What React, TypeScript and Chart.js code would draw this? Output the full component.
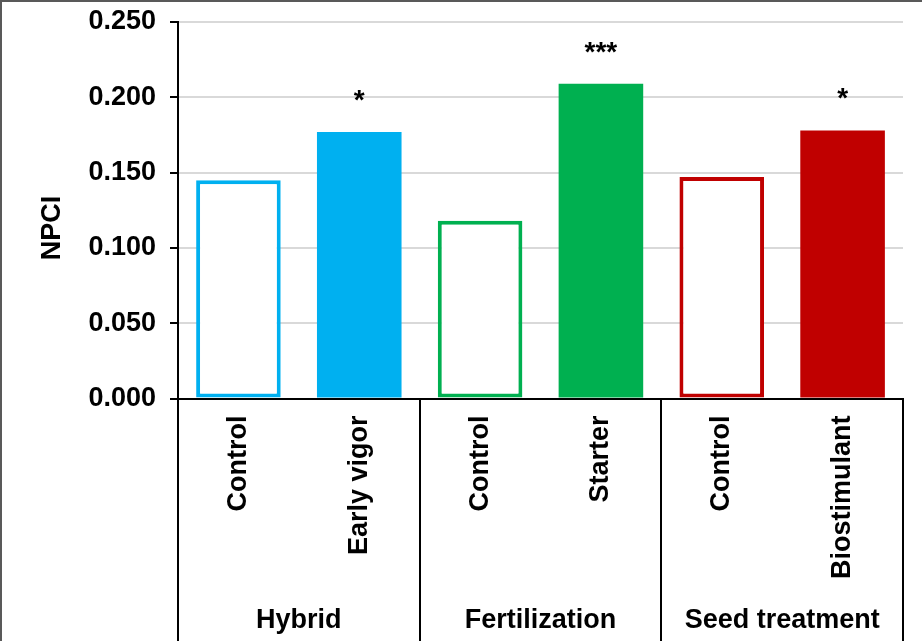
import React, { useEffect, useRef } from "react";
import { Chart, registerables } from "chart.js";

Chart.register(...registerables);

// Treatments, one bar each, grouped in pairs
const categories = ["Control", "Early vigor", "Control", "Starter", "Control", "Biostimulant"];
const groups = ["Hybrid", "Fertilization", "Seed treatment"];
const npciValues = [0.145, 0.177, 0.118, 0.209, 0.147, 0.178];
const significance = ["", "*", "", "***", "", "*"];
const filledBars = [false, true, false, true, false, true];
const groupColors = ["#00B0F0", "#00B050", "#C00000"];

const yMin = 0;
const yMax = 0.25;
const yStep = 0.05;

const FONT = "'Liberation Sans', Arial, sans-serif";

const barColor = (i: number) => groupColors[Math.floor(i / 2)];

const annotationsPlugin = {
  id: "npciAnnotations",
  afterDraw(chart: any) {
    const { ctx, chartArea, scales } = chart;
    const xScale = scales.x;
    const meta = chart.getDatasetMeta(0);
    const catWidth = (chartArea.right - chartArea.left) / categories.length;
    const H = chart.height;

    ctx.save();
    ctx.fillStyle = "#000";

    // significance marks above bars
    ctx.font = `bold 28px ${FONT}`;
    ctx.textAlign = "center";
    ctx.textBaseline = "alphabetic";
    meta.data.forEach((bar: any, i: number) => {
      if (significance[i]) ctx.fillText(significance[i], bar.x, bar.y - 23);
    });

    // rotated category labels
    ctx.font = `bold 27px ${FONT}`;
    categories.forEach((label, i) => {
      const x = xScale.getPixelForValue(i);
      ctx.save();
      ctx.translate(x, chartArea.bottom + 17);
      ctx.rotate(-Math.PI / 2);
      ctx.textAlign = "right";
      ctx.textBaseline = "middle";
      ctx.fillText(label, 0, 0);
      ctx.restore();
    });

    // group separators
    ctx.strokeStyle = "#000";
    ctx.lineWidth = 2;
    for (let g = 0; g <= groups.length; g++) {
      const x = Math.round(chartArea.left + g * 2 * catWidth);
      ctx.beginPath();
      ctx.moveTo(x, chartArea.bottom);
      ctx.lineTo(x, H);
      ctx.stroke();
    }

    // group labels
    ctx.textAlign = "center";
    ctx.textBaseline = "alphabetic";
    groups.forEach((label, g) => {
      const x = chartArea.left + (g * 2 + 1) * catWidth;
      ctx.fillText(label, x, 628);
    });

    // y axis title
    ctx.save();
    ctx.translate(53, 228);
    ctx.rotate(-Math.PI / 2);
    ctx.textAlign = "center";
    ctx.textBaseline = "middle";
    ctx.font = `bold 27px ${FONT}`;
    ctx.fillText("NPCI", 0, 0);
    ctx.restore();

    // outer frame (top and left)
    ctx.strokeStyle = "#595959";
    ctx.lineWidth = 2;
    ctx.beginPath();
    ctx.moveTo(1, H);
    ctx.lineTo(1, 1);
    ctx.lineTo(chart.width, 1);
    ctx.stroke();

    ctx.restore();
  },
};

export default function App() {
  const canvasRef = useRef<HTMLCanvasElement | null>(null);

  useEffect(() => {
    if (!canvasRef.current) return;
    const chart = new Chart(canvasRef.current, {
      type: "bar",
      data: {
        labels: categories,
        datasets: [
          {
            data: npciValues,
            backgroundColor: npciValues.map((_, i) => (filledBars[i] ? barColor(i) : "#ffffff")),
            borderColor: npciValues.map((_, i) => barColor(i)),
            borderWidth: npciValues.map((_, i) => (filledBars[i] ? 0 : 4)),
            borderSkipped: false,
            barPercentage: 0.7,
            categoryPercentage: 1,
          },
        ],
      },
      options: {
        responsive: false,
        animation: false,
        devicePixelRatio: 1,
        layout: { padding: { left: 0, right: 19, top: 22, bottom: 242.5 } },
        plugins: {
          legend: { display: false },
          tooltip: { enabled: false },
        },
        scales: {
          x: {
            type: "category",
            grid: { display: false },
            ticks: { display: false },
            border: { display: true, color: "#000", width: 2 },
            afterFit: (scale: any) => {
              scale.height = 0;
              scale.paddingLeft = 0;
              scale.paddingRight = 0;
            },
          },
          y: {
            min: yMin,
            max: yMax,
            ticks: {
              stepSize: yStep,
              color: "#000",
              padding: 14,
              font: { family: FONT, size: 27, weight: "bold" },
              callback: (v: any) => Number(v).toFixed(3),
            },
            grid: {
              color: "#d9d9d9",
              lineWidth: 2,
              tickColor: "#000",
              tickLength: 8,
            },
            border: { display: true, color: "#000", width: 2 },
            afterFit: (scale: any) => {
              scale.width = 178;
              scale.paddingTop = 0;
              scale.paddingBottom = 0;
            },
          },
        },
      },
      plugins: [annotationsPlugin],
    });
    return () => chart.destroy();
  }, []);

  return (
    <div style={{ position: "absolute", left: 0, top: 0, width: 922, height: 641, background: "#fff" }}>
      <canvas ref={canvasRef} width={922} height={641} style={{ display: "block", width: 922, height: 641 }} />
    </div>
  );
}
